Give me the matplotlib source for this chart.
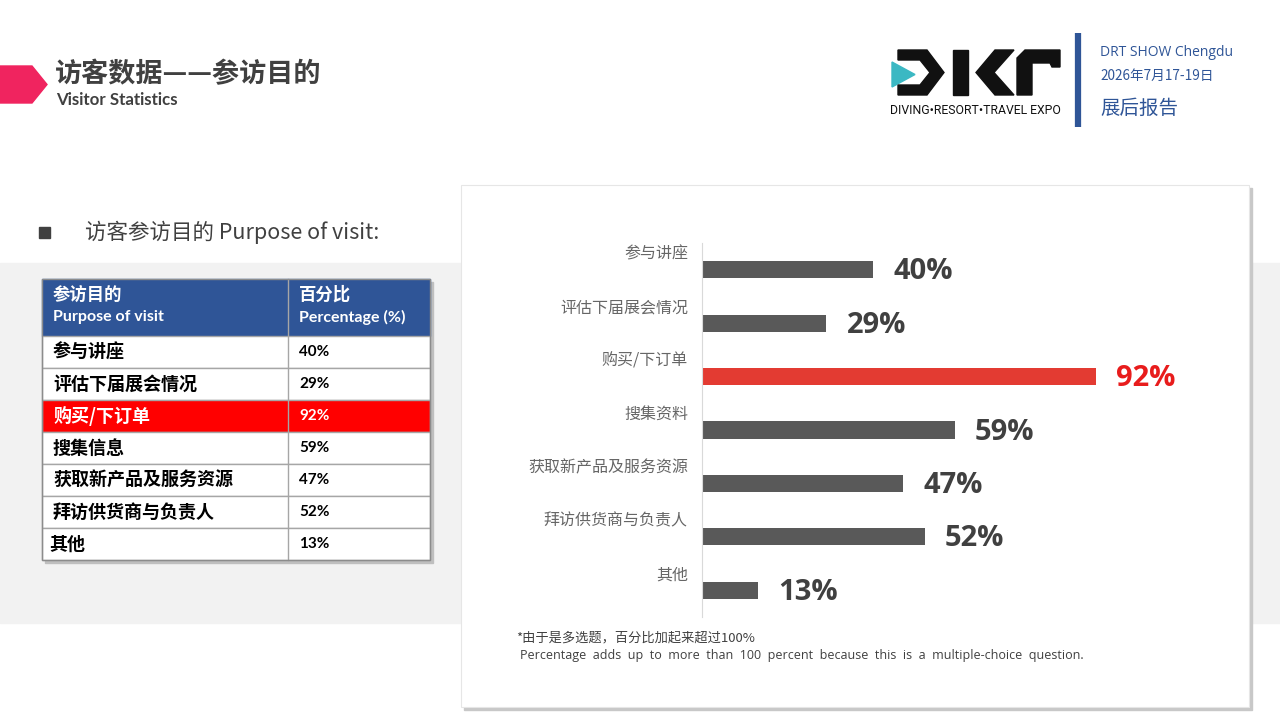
import matplotlib
matplotlib.use("Agg")
import matplotlib.pyplot as plt
from matplotlib.patches import Rectangle, Polygon

plt.rcParams['font.family'] = ['Noto Sans CJK SC', 'DejaVu Sans']

# datos del gráfico
categorias = ["参与讲座", "评估下届展会情况", "购买/下订单", "搜集资料",
              "获取新产品及服务资源", "拜访供货商与负责人", "其他"]
porcentajes = [40, 29, 92, 59, 47, 52, 13]
destacado = 2  # índice de la barra roja

# datos de la tabla
tabla_cat = ["参与讲座", "评估下届展会情况", "购买/下订单", "搜集信息",
             "获取新产品及服务资源", "拜访供货商与负责人", "其他"]
tabla_pct = ["40%", "29%", "92%", "59%", "47%", "52%", "13%"]

GRIS_TXT = "#404040"
AZUL = "#2f5597"

fig = plt.figure(figsize=(12.8, 7.2), dpi=100)
bg = fig.add_axes([0, 0, 1, 1])
bg.set_xlim(0, 1280)
bg.set_ylim(720, 0)
bg.axis("off")

# franja gris de fondo
bg.add_patch(Rectangle((0, 263), 1280, 360, color="#f2f2f2", zorder=0))

# encabezado
bg.add_patch(Polygon([(0, 66), (32, 66), (47, 84.5), (32, 103), (0, 103)],
                     closed=True, color="#f0245f", zorder=1))
bg.text(55, 74, "访客数据——参访目的", fontsize=19.5, fontweight="bold",
        color=GRIS_TXT, va="center", ha="left")
bg.text(56, 100, "Visitor Statistics", fontsize=12.2, fontweight="bold",
        family="Lato", color=GRIS_TXT, va="center", ha="left")

# logo DRT (aproximado)
bg.add_patch(Polygon([(892, 62), (915, 74.5), (892, 87)], color="#3bb8c3", zorder=2))
bg.add_patch(Polygon([(898, 50), (927, 50), (944, 72.5), (927, 95), (898, 95),
                      (898, 85), (920, 85), (930, 72.5), (920, 60), (898, 60)],
                     color="#111111", zorder=2))
bg.add_patch(Rectangle((953, 50), 15, 45, color="#111111", zorder=2))
bg.add_patch(Polygon([(995, 50), (1014, 50), (994, 72.5), (1014, 95), (995, 95), (976, 72.5)],
                     color="#111111", zorder=2))
bg.add_patch(Polygon([(1017, 95), (1017, 58), (1025, 50), (1060, 50), (1060, 67),
                      (1052, 67), (1050, 63), (1032, 63), (1032, 95)],
                     color="#111111", zorder=2))
bg.text(975.5, 110, "DIVING•RESORT•TRAVEL EXPO", fontsize=8.8, family="Roboto",
        color="#111111", ha="center", va="center")
bg.plot([1078, 1078], [33, 127], color=AZUL, lw=4.5, solid_capstyle="butt")
bg.text(1100, 52, "DRT SHOW Chengdu", fontsize=10, family="Open Sans",
        color=AZUL, va="center")
bg.text(1100, 76, "2026年7月17-19日", fontsize=9.8, color=AZUL, va="center")
bg.text(1100, 108, "展后报告", fontsize=14, color=AZUL, va="center")

# subtítulo con viñeta
bg.add_patch(Rectangle((39, 227), 11, 11, color=GRIS_TXT))
bg.text(85, 232, "访客参访目的 Purpose of visit:", fontsize=15.5,
        color=GRIS_TXT, va="center")

# tabla
x0, x1, xm = 42, 430, 288
bg.add_patch(Rectangle((x0 + 3, 282), x1 - x0, 281, color="#bfbfbf", zorder=1))
bg.add_patch(Rectangle((x0, 279), x1 - x0, 57, color=AZUL, zorder=2))
bg.text(53, 295, "参访目的", fontsize=12.5, fontweight="bold", color="white",
        va="center", zorder=5)
bg.text(53, 317, "Purpose of visit", fontsize=11.5, fontweight="bold", family="Lato",
        color="white", va="center", zorder=5)
bg.text(299, 295, "百分比", fontsize=12.5, fontweight="bold", color="white",
        va="center", zorder=5)
bg.text(299, 317, "Percentage (%)", fontsize=11.5, fontweight="bold", family="Lato",
        color="white", va="center", zorder=5)
alto = 32
for i, (c, p) in enumerate(zip(tabla_cat, tabla_pct)):
    y = 336 + i * alto
    fondo = "#ff0000" if i == destacado else "white"
    col = "white" if i == destacado else "black"
    bg.add_patch(Rectangle((x0, y), x1 - x0, alto, facecolor=fondo,
                           edgecolor="#a6a6a6", lw=1, zorder=2))
    bg.text(49 if c == "其他" else 53, y + alto / 2, c, fontsize=13, fontweight="bold",
            color=col, va="center", zorder=5)
    bg.text(299, y + alto / 2, p, fontsize=11, fontweight="bold", family="Lato",
            color=col, va="center", zorder=5)
bg.plot([xm, xm], [279, 560], color="#a6a6a6", lw=1, zorder=3)
bg.add_patch(Rectangle((x0, 279), x1 - x0, 281, fill=False, edgecolor="#8c8c8c",
                       lw=1, zorder=4))

# tarjeta blanca con sombra
bg.add_patch(Rectangle((464, 188), 788, 522, color="#c8c8c8", zorder=1))
bg.add_patch(Rectangle((461, 185), 788, 522, facecolor="white",
                       edgecolor="#e6e6e6", lw=0.8, zorder=2))
bg.text(516, 638, "*由于是多选题，百分比加起来超过100%", fontsize=9.5,
        color=GRIS_TXT, va="center", zorder=3)
bg.text(520, 655, "Percentage  adds  up  to  more  than  100  percent  because  this  is  a  multiple-choice  question.",
        fontsize=9, family="Open Sans", color=GRIS_TXT, va="center", zorder=3)

# gráfico de barras
ax = fig.add_axes([702 / 1280, 1 - 617 / 720, 428 / 1280, 374 / 720])
ax.patch.set_alpha(0)
ys = list(range(len(categorias)))
colores = ["#e33b32" if i == destacado else "#595959" for i in ys]
ax.barh(ys, porcentajes, height=0.32, color=colores)
ax.set_xlim(0, 100)
ax.set_ylim(6.5, -0.5)
for s in ["top", "right", "bottom"]:
    ax.spines[s].set_visible(False)
ax.spines["left"].set_color("#d9d9d9")
ax.set_xticks([])
ax.set_yticks([])
for i, (c, v) in enumerate(zip(categorias, porcentajes)):
    ax.text(-3.3, i - 0.29, c, ha="right", va="center", fontsize=11.5,
            color="#666666", clip_on=False)
    ax.text(v + 4.8, i + 0.04, f"{v}%", ha="left", va="center", fontsize=21,
            fontweight="bold", family="Open Sans",
            color="#e81c1c" if i == destacado else GRIS_TXT, clip_on=False)

fig.savefig("out.png", dpi=100)
